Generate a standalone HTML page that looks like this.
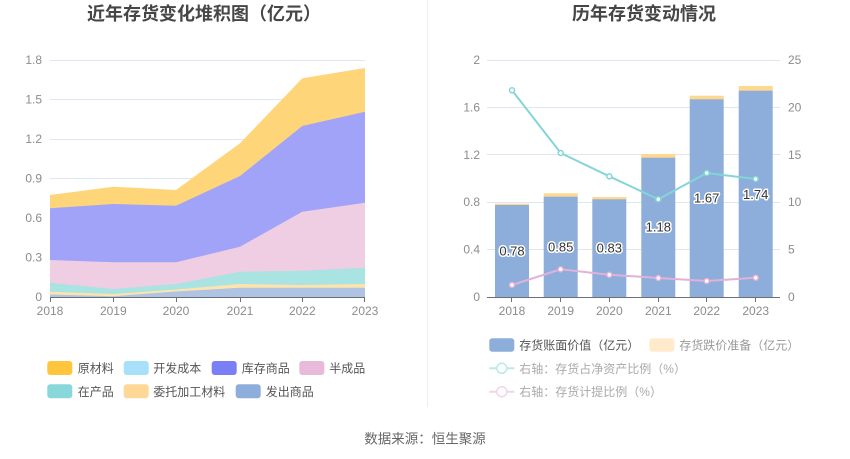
<!DOCTYPE html>
<html>
<head>
<meta charset="utf-8">
<style>
html,body{margin:0;padding:0;background:#fff;}
body{width:850px;height:459px;overflow:hidden;}
svg{display:block;font-family:"Liberation Sans","Noto Sans CJK SC",sans-serif;}
.ax{font-size:12px;fill:#8c8c8c;}
.lg{font-size:12px;}
.t{font-size:18px;font-weight:bold;fill:#464646;}
.bl{font-size:13px;fill:#333;stroke:#fff;stroke-width:3px;paint-order:stroke;stroke-linejoin:round;}
</style>
</head>
<body>
<svg width="850" height="459" viewBox="0 0 850 459" xmlns="http://www.w3.org/2000/svg">
  <rect width="850" height="459" fill="#fff"/>
  <!-- titles -->
  <text class="t" x="204" y="20" text-anchor="middle">近年存货变化堆积图（亿元）</text>
  <text class="t" x="644" y="20" text-anchor="middle">历年存货变动情况</text>
  <!-- divider -->
  <line x1="427.5" y1="0" x2="427.5" y2="407" stroke="#eeeeee" stroke-width="1"/>

  <!-- LEFT CHART -->
  <g stroke="#E0E6F1" stroke-width="1">
    <line x1="50" y1="60.5" x2="365" y2="60.5"/>
    <line x1="50" y1="99.5" x2="365" y2="99.5"/>
    <line x1="50" y1="139.5" x2="365" y2="139.5"/>
    <line x1="50" y1="178.5" x2="365" y2="178.5"/>
    <line x1="50" y1="218.5" x2="365" y2="218.5"/>
    <line x1="50" y1="257.5" x2="365" y2="257.5"/>
  </g>
  <g class="ax" text-anchor="end">
    <text x="42" y="64">1.8</text>
    <text x="42" y="103.5">1.5</text>
    <text x="42" y="143">1.2</text>
    <text x="42" y="182.5">0.9</text>
    <text x="42" y="222">0.6</text>
    <text x="42" y="261.5">0.3</text>
    <text x="42" y="301">0</text>
  </g>
  <!-- areas -->
  <polygon fill="#FFD57A" points="50,195 113.3,186.7 176,190 240,143.3 302.3,78.3 365,68 365,297 50,297"/>
  <polygon fill="#A0A3F7" points="50,208.3 113.3,204 176,205.7 240,176 302.3,126 365,111.7 365,297 50,297"/>
  <polygon fill="#EFCDE2" points="50,260 113.3,262.3 176,262.3 240,246.7 302.3,211.7 365,202.7 365,297 50,297"/>
  <polygon fill="#A9E3E2" points="50,282.7 113.3,289 176,284 240,271.7 302.3,270.7 365,267.7 365,297 50,297"/>
  <polygon fill="#FFE3AC" points="50,291.7 113.3,294 176,289.5 240,284 302.3,285 365,284 365,297 50,297"/>
  <polygon fill="#AFC3E3" points="50,294.5 113.3,296.2 176,291.5 240,287.7 302.3,287.7 365,287.7 365,297 50,297"/>
  <g stroke="#6E7079" stroke-width="1">
    <line x1="50" y1="297.5" x2="365" y2="297.5"/>
    <line x1="50.5" y1="297" x2="50.5" y2="302"/>
    <line x1="113.5" y1="297" x2="113.5" y2="302"/>
    <line x1="176.5" y1="297" x2="176.5" y2="302"/>
    <line x1="240.5" y1="297" x2="240.5" y2="302"/>
    <line x1="302.5" y1="297" x2="302.5" y2="302"/>
    <line x1="364.5" y1="297" x2="364.5" y2="302"/>
  </g>
  <g class="ax" text-anchor="middle">
    <text x="50" y="315">2018</text>
    <text x="113.3" y="315">2019</text>
    <text x="176" y="315">2020</text>
    <text x="240" y="315">2021</text>
    <text x="302.3" y="315">2022</text>
    <text x="365" y="315">2023</text>
  </g>
  <!-- left legend -->
  <g class="lg" fill="#555">
    <rect x="47.3" y="361" width="25" height="14" rx="3" fill="#FFC53D"/>
    <text x="77.7" y="372.5">原材料</text>
    <rect x="123.7" y="361" width="25" height="14" rx="3" fill="#A6E0FB"/>
    <text x="153.3" y="372.5">开发成本</text>
    <rect x="211.7" y="361" width="25" height="14" rx="3" fill="#7A7FF5"/>
    <text x="241.7" y="372.5">库存商品</text>
    <rect x="299.3" y="361" width="25" height="14" rx="3" fill="#E8B9DA"/>
    <text x="329.3" y="372.5">半成品</text>
    <rect x="47.3" y="384.3" width="25" height="14" rx="3" fill="#88D8DB"/>
    <text x="77.7" y="395.8">在产品</text>
    <rect x="123.7" y="384.3" width="25" height="14" rx="3" fill="#FFD898"/>
    <text x="153.3" y="395.8">委托加工材料</text>
    <rect x="235.7" y="384.3" width="25" height="14" rx="3" fill="#8DAEDB"/>
    <text x="265.7" y="395.8">发出商品</text>
  </g>

  <!-- RIGHT CHART -->
  <g stroke="#E0E6F1" stroke-width="1">
    <line x1="487" y1="60.5" x2="780" y2="60.5"/>
    <line x1="487" y1="107.5" x2="780" y2="107.5"/>
    <line x1="487" y1="154.5" x2="780" y2="154.5"/>
    <line x1="487" y1="202.5" x2="780" y2="202.5"/>
    <line x1="487" y1="249.5" x2="780" y2="249.5"/>
  </g>
  <g class="ax" text-anchor="end">
    <text x="480" y="64">2</text>
    <text x="480" y="111.4">1.6</text>
    <text x="480" y="158.8">1.2</text>
    <text x="480" y="206.2">0.8</text>
    <text x="480" y="253.6">0.4</text>
    <text x="480" y="301">0</text>
  </g>
  <g class="ax" text-anchor="start">
    <text x="788" y="64">25</text>
    <text x="788" y="111.4">20</text>
    <text x="788" y="158.8">15</text>
    <text x="788" y="206.2">10</text>
    <text x="788" y="253.6">5</text>
    <text x="788" y="301">0</text>
  </g>
  <!-- bars -->
  <g fill="#FFD88F">
    <rect x="495" y="203.7" width="34" height="2"/>
    <rect x="543.7" y="193.3" width="34" height="4"/>
    <rect x="592.3" y="197" width="34" height="3"/>
    <rect x="641.3" y="154" width="34" height="4"/>
    <rect x="689.7" y="95.7" width="34" height="4"/>
    <rect x="738.7" y="86" width="34" height="5"/>
  </g>
  <g fill="#8DADDA">
    <rect x="495" y="205" width="34" height="92"/>
    <rect x="543.7" y="196.7" width="34" height="100.3"/>
    <rect x="592.3" y="199.3" width="34" height="97.7"/>
    <rect x="641.3" y="157.7" width="34" height="139.3"/>
    <rect x="689.7" y="99.3" width="34" height="197.7"/>
    <rect x="738.7" y="90.7" width="34" height="206.3"/>
  </g>
  <g stroke="#6E7079" stroke-width="1">
    <line x1="487" y1="297.5" x2="780" y2="297.5"/>
    <line x1="511.5" y1="297" x2="511.5" y2="302"/>
    <line x1="560.5" y1="297" x2="560.5" y2="302"/>
    <line x1="609.5" y1="297" x2="609.5" y2="302"/>
    <line x1="658.5" y1="297" x2="658.5" y2="302"/>
    <line x1="706.5" y1="297" x2="706.5" y2="302"/>
    <line x1="755.5" y1="297" x2="755.5" y2="302"/>
  </g>
  <g class="ax" text-anchor="middle">
    <text x="512" y="315">2018</text>
    <text x="560.7" y="315">2019</text>
    <text x="609.3" y="315">2020</text>
    <text x="658.3" y="315">2021</text>
    <text x="706.7" y="315">2022</text>
    <text x="755.7" y="315">2023</text>
  </g>
  <!-- lines -->
  <polyline fill="none" stroke="#84D5D8" stroke-width="2" points="512,90.3 560.7,153 609.3,176.3 658.3,199.3 706.7,173 755.7,179"/>
  <polyline fill="none" stroke="#E3B1D8" stroke-width="2" points="512,285 560.7,269.3 609.3,274.7 658.3,278 706.7,281 755.7,277.7"/>
  <g fill="#fff" stroke="#84D5D8" stroke-width="1.5">
    <circle cx="512" cy="90.3" r="2.5"/>
    <circle cx="560.7" cy="153" r="2.5"/>
    <circle cx="609.3" cy="176.3" r="2.5"/>
    <circle cx="658.3" cy="199.3" r="2.5"/>
    <circle cx="706.7" cy="173" r="2.5"/>
    <circle cx="755.7" cy="179" r="2.5"/>
  </g>
  <g fill="#fff" stroke="#E3B1D8" stroke-width="1.5">
    <circle cx="512" cy="285" r="2.5"/>
    <circle cx="560.7" cy="269.3" r="2.5"/>
    <circle cx="609.3" cy="274.7" r="2.5"/>
    <circle cx="658.3" cy="278" r="2.5"/>
    <circle cx="706.7" cy="281" r="2.5"/>
    <circle cx="755.7" cy="277.7" r="2.5"/>
  </g>
  <!-- bar labels -->
  <g class="bl" text-anchor="middle">
    <text x="512" y="255.5">0.78</text>
    <text x="560.7" y="251.5">0.85</text>
    <text x="609.3" y="252.5">0.83</text>
    <text x="658.3" y="231.5">1.18</text>
    <text x="706.7" y="202.5">1.67</text>
    <text x="755.7" y="198.8">1.74</text>
  </g>
  <!-- right legend -->
  <g class="lg">
    <rect x="489.3" y="338.3" width="25" height="13.5" rx="3" fill="#8DAEDB"/>
    <text x="519.3" y="349.5" fill="#555">存货账面价值（亿元）</text>
    <rect x="649.3" y="338.3" width="25" height="13.5" rx="3" fill="#FFEBCC"/>
    <text x="679.3" y="349.5" fill="#999">存货跌价准备（亿元）</text>
    <line x1="489.3" y1="368.3" x2="514.3" y2="368.3" stroke="#B8EAEC" stroke-width="2"/>
    <circle cx="501.8" cy="368.3" r="5" fill="#fff" stroke="#B8EAEC" stroke-width="1.5"/>
    <text x="519.3" y="372.8" fill="#aaa">右轴：存货占净资产比例（%）</text>
    <line x1="489.3" y1="391.7" x2="514.3" y2="391.7" stroke="#F3D3EA" stroke-width="2"/>
    <circle cx="501.8" cy="391.7" r="5" fill="#fff" stroke="#F3D3EA" stroke-width="1.5"/>
    <text x="519.3" y="396.2" fill="#aaa">右轴：存货计提比例（%）</text>
  </g>

  <!-- source -->
  <text x="425" y="443.5" text-anchor="middle" font-size="13.5" fill="#666">数据来源：恒生聚源</text>
</svg>
</body>
</html>
